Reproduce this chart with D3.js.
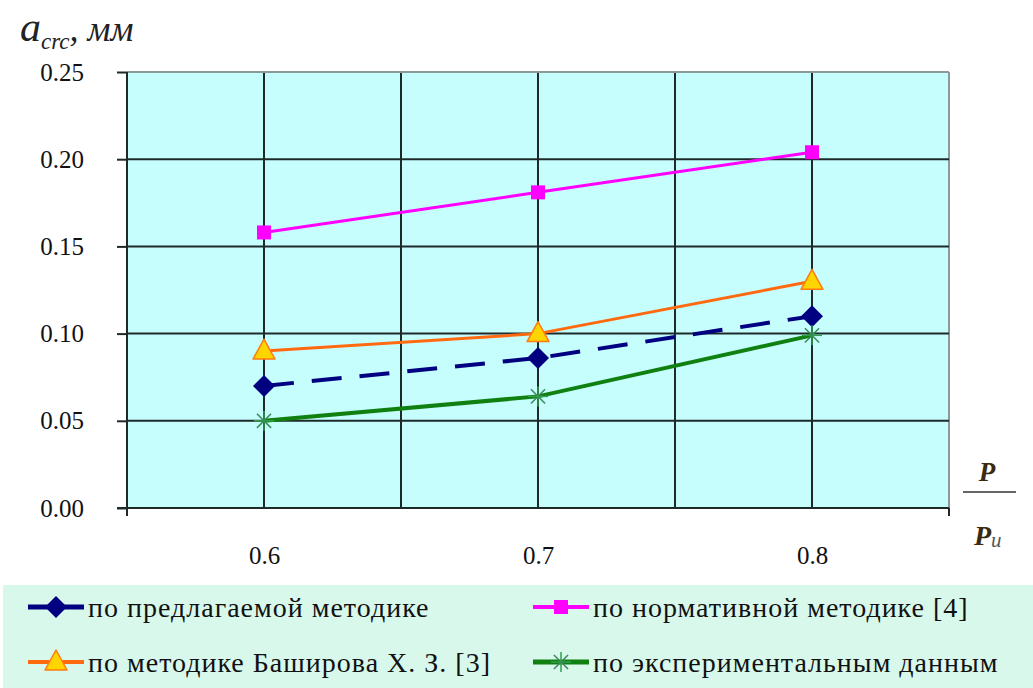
<!DOCTYPE html>
<html><head><meta charset="utf-8">
<script src="https://cdn.jsdelivr.net/npm/d3@7"></script>
<style>body{margin:0;background:#fff}svg{display:block}</style>
</head><body>
<svg id="c" width="1033" height="688"></svg>
<script>
const xValues = [0.6, 0.7, 0.8];
const xTickLabels = ["0.6", "0.7", "0.8"];
const yTicks = [0, 0.05, 0.10, 0.15, 0.20, 0.25];
const seriesNames = ["по предлагаемой методике", "по нормативной методике [4]", "по методике Баширова Х. З. [3]", "по экспериментальным данным"];
const proposed = [0.070, 0.086, 0.110];
const normative = [0.158, 0.181, 0.204];
const bashirov = [0.090, 0.100, 0.130];
const experimental = [0.050, 0.064, 0.099];

const svg = d3.select("#c");
const L = 127, R = 949, T = 72, B = 508;
const x = d3.scaleLinear().domain([0.55, 0.85]).range([L, R]);
const y = d3.scaleLinear().domain([0, 0.25]).range([B, T]);
const font = '"Liberation Serif", "Times New Roman", serif';

svg.append("rect").attr("x", L).attr("y", T).attr("width", R - L).attr("height", B - T).attr("fill", "#c6fefe");
const xGrid = d3.range(0.6, 0.851, 0.05);
svg.append("g").selectAll("line").data(xGrid).join("line")
  .attr("x1", d => x(d)).attr("x2", d => x(d)).attr("y1", T).attr("y2", B)
  .attr("stroke", d => Math.abs(d - 0.85) < 1e-6 ? "#8a9a9a" : "#1e2a2a").attr("stroke-width", 2);
svg.append("g").selectAll("line").data(yTicks).join("line")
  .attr("x1", L).attr("x2", R).attr("y1", d => y(d)).attr("y2", d => y(d))
  .attr("stroke", d => d === 0.25 ? "#8a9a9a" : "#1e2a2a").attr("stroke-width", 2);

const yAxis = d3.axisLeft(y).tickValues(yTicks).tickFormat(d3.format(".2f")).tickSize(10).tickPadding(33);
const ga = svg.append("g").attr("transform", `translate(${L},0)`).call(yAxis);
ga.attr("font-family", font);
ga.select(".domain").attr("stroke", "#1e2a2a").attr("stroke-width", 2).attr("d", `M0,${T}V${B + 8}`);
ga.selectAll(".tick line").attr("stroke", "#1e2a2a").attr("stroke-width", 2);
ga.selectAll(".tick text").attr("font-size", 25).attr("fill", "#111");

const xAxis = d3.axisBottom(x).tickValues(xValues).tickFormat((d, i) => xTickLabels[i]).tickSize(0).tickPadding(38);
const gx = svg.append("g").attr("transform", `translate(0,${B})`).call(xAxis);
gx.attr("font-family", font);
gx.select(".domain").remove();
gx.selectAll(".tick text").attr("font-size", 25).attr("fill", "#111");
svg.append("line").attr("x1", L - 10).attr("x2", R).attr("y1", B).attr("y2", B).attr("stroke", "#1e2a2a").attr("stroke-width", 2);
svg.append("line").attr("x1", R).attr("x2", R).attr("y1", B).attr("y2", B + 8).attr("stroke", "#1e2a2a").attr("stroke-width", 2);

const series = [
  {name: seriesNames[0], vals: proposed, color: "#000080", width: 4, dash: "30,18", marker: "diamond"},
  {name: seriesNames[1], vals: normative, color: "#ff00ff", width: 3, dash: null, marker: "square"},
  {name: seriesNames[2], vals: bashirov, color: "#ff6a10", width: 3, dash: null, marker: "triangle"},
  {name: seriesNames[3], vals: experimental, color: "#108010", width: 4, dash: null, marker: "star"}
];
const line = d3.line().x((d, i) => x(xValues[i])).y(d => y(d));

function drawMarker(g, type, cx, cy) {
  if (type === "diamond") {
    g.append("path").attr("d", `M${cx},${cy - 11}L${cx + 11},${cy}L${cx},${cy + 11}L${cx - 11},${cy}Z`).attr("fill", "#000080");
  } else if (type === "square") {
    g.append("rect").attr("x", cx - 7).attr("y", cy - 7).attr("width", 14).attr("height", 14).attr("fill", "#ff00ff");
  } else if (type === "triangle") {
    g.append("path").attr("d", `M${cx},${cy - 12}L${cx + 11},${cy + 8}L${cx - 11},${cy + 8}Z`).attr("fill", "#ffd500").attr("stroke", "#ff7a10").attr("stroke-width", 1.5).attr("stroke-linejoin", "round");
  } else if (type === "star") {
    const r = 10;
    [0, 45, 90, 135].forEach((a, k) => {
      const rad = a * Math.PI / 180;
      g.append("line").attr("x1", cx - r * Math.cos(rad)).attr("y1", cy - r * Math.sin(rad))
        .attr("x2", cx + r * Math.cos(rad)).attr("y2", cy + r * Math.sin(rad))
        .attr("stroke", k % 2 ? "#3a8a5a" : "#30a050").attr("stroke-width", 1.5);
    });
  }
}

series.forEach(s => {
  const g = svg.append("g");
  g.append("path").attr("d", line(s.vals)).attr("fill", "none").attr("stroke", s.color)
    .attr("stroke-width", s.width).attr("stroke-dasharray", s.dash);
  s.vals.forEach((v, i) => drawMarker(g, s.marker, x(xValues[i]), y(v)));
});

const yt = svg.append("text").attr("x", 20).attr("y", 41).attr("font-family", font).attr("font-style", "italic").attr("fill", "#222");
yt.append("tspan").attr("font-size", 42).text("a");
yt.append("tspan").attr("font-size", 23).attr("dy", 8).text("crc");
yt.append("tspan").attr("font-size", 36).attr("dy", -8).text(", мм");

svg.append("text").attr("x", 987).attr("y", 481).attr("text-anchor", "middle").attr("font-family", font)
  .attr("font-style", "italic").attr("font-weight", "bold").attr("font-size", 27).attr("fill", "#3a2a10").text("P");
svg.append("line").attr("x1", 963).attr("x2", 1016).attr("y1", 492).attr("y2", 492).attr("stroke", "#666").attr("stroke-width", 2);
const pu = svg.append("text").attr("x", 974).attr("y", 545).attr("font-family", font).attr("font-style", "italic").attr("font-weight", "bold").attr("fill", "#3a2a10");
pu.append("tspan").attr("font-size", 28).text("P");
pu.append("tspan").attr("font-size", 21).attr("dy", 2).attr("font-weight", "normal").attr("fill", "#555").text("u");

svg.append("rect").attr("x", 3).attr("y", 585).attr("width", 1030).attr("height", 103).attr("fill", "#d8f8ec");
const legPos = [[28, 607], [533, 607], [28, 662], [533, 662]];
series.forEach((s, k) => {
  const [lx, ly] = legPos[k];
  const g = svg.append("g");
  g.append("line").attr("x1", lx).attr("x2", lx + 56).attr("y1", ly).attr("y2", ly).attr("stroke", s.color).attr("stroke-width", s.width + 1);
  drawMarker(g, s.marker, lx + 28, ly);
  g.append("text").attr("x", lx + 60).attr("y", ly).attr("dy", "0.35em").attr("font-family", font)
    .attr("font-size", 28).attr("letter-spacing", 1).attr("fill", "#111").text(s.name);
});
</script>
</body></html>
